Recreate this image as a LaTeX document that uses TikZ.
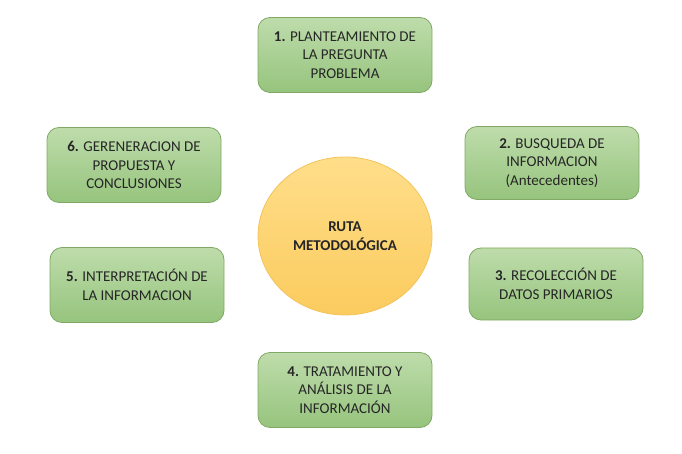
\documentclass[tikz,border=0pt]{standalone}
\usepackage{fontspec}
\setmainfont{Carlito}
\usetikzlibrary{shapes.geometric}

\definecolor{pasoborde}{HTML}{7FA964}
\definecolor{pasoarriba}{HTML}{BEDCAB}
\definecolor{pasoabajo}{HTML}{96C47D}
\definecolor{rutaborde}{HTML}{F2C45C}
\definecolor{rutaarriba}{HTML}{FFDE8A}
\definecolor{rutaabajo}{HTML}{FBCB5E}

\tikzset{
    paso/.style={draw=pasoborde, line width=0.8pt, rounded corners=12pt,
        top color=pasoarriba, bottom color=pasoabajo,
        minimum width=174pt, minimum height=75pt, align=center,
        font=\fontsize{15}{18.5}\selectfont, text=black!85},
    ruta/.style={ellipse, draw=rutaborde, line width=0.8pt,
        top color=rutaarriba, bottom color=rutaabajo,
        minimum width=174pt, minimum height=158pt, inner sep=0pt, align=center,
        font=\fontsize{15}{19}\selectfont\bfseries, text=black!85}
}

\begin{document}
\begin{tikzpicture}[x=1pt, y=-1pt]
    % Define the frame of the picture
    \useasboundingbox (0,0) rectangle (682,454);

    % Center of the route
    \node[ruta] (R) at (345,236) {RUTA\\METODOLÓGICA};

    % Steps around it
    \node[paso] (P1) at (345,55) {\textbf{1.} PLANTEAMIENTO DE\\LA PREGUNTA\\PROBLEMA};
    \node[paso, minimum height=73pt] (P2) at (552,163) {\textbf{2.} BUSQUEDA DE\\INFORMACION\\(Antecedentes)};
    \node[paso, minimum height=72pt] (P3) at (556,284) {\textbf{3.} RECOLECCIÓN DE\\DATOS PRIMARIOS};
    \node[paso] (P4) at (345,390) {\textbf{4.} TRATAMIENTO Y\\ANÁLISIS DE LA\\INFORMACIÓN};
    \node[paso] (P5) at (137,285) {\textbf{5.} INTERPRETACIÓN DE\\LA INFORMACION};
    \node[paso] (P6) at (134,165) {\textbf{6.} GERENERACION DE\\PROPUESTA Y\\CONCLUSIONES};

\end{tikzpicture}
\end{document}
